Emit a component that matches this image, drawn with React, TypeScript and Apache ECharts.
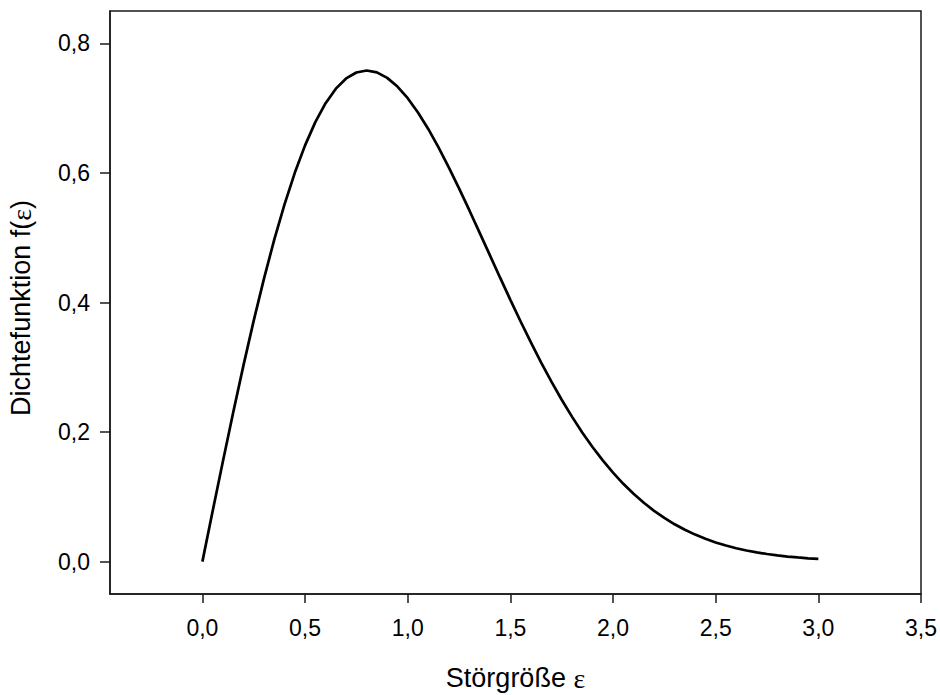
import React, { useEffect, useRef } from "react";
import * as echarts from "echarts";

const xValues: number[] = [
  0.0, 0.05, 0.1, 0.15, 0.2, 0.25, 0.3, 0.35, 0.4, 0.45, 0.5, 0.55, 0.6, 0.65, 0.7, 0.75,
  0.8, 0.85, 0.9, 0.95, 1.0, 1.05, 1.1, 1.15, 1.2, 1.25, 1.3, 1.35, 1.4, 1.45, 1.5, 1.55,
  1.6, 1.65, 1.7, 1.75, 1.8, 1.85, 1.9, 1.95, 2.0, 2.05, 2.1, 2.15, 2.2, 2.25, 2.3, 2.35,
  2.4, 2.45, 2.5, 2.55, 2.6, 2.65, 2.7, 2.75, 2.8, 2.85, 2.9, 2.95, 3.0,
];

const densityValues: number[] = [
  0.0, 0.078, 0.155, 0.2303, 0.3029, 0.372, 0.4369, 0.497, 0.5516, 0.6002, 0.6426, 0.6785,
  0.7077, 0.7301, 0.7459, 0.7551, 0.7582, 0.7553, 0.7468, 0.7334, 0.7154, 0.6933, 0.6679,
  0.6395, 0.6087, 0.5762, 0.5425, 0.5079, 0.4731, 0.4383, 0.4041, 0.3707, 0.3383, 0.3073,
  0.2778, 0.2499, 0.2238, 0.1994, 0.1769, 0.1563, 0.1373, 0.1201, 0.1047, 0.0908, 0.0784,
  0.0674, 0.0576, 0.0491, 0.0417, 0.0352, 0.0296, 0.0248, 0.0207, 0.0172, 0.0142, 0.0117,
  0.0096, 0.0078, 0.0064, 0.0051, 0.0041,
];

const xTicks: number[] = [0, 0.5, 1.0, 1.5, 2.0, 2.5, 3.0, 3.5];
const yTicks: number[] = [0, 0.2, 0.4, 0.6, 0.8];

const xTitle = "Störgröße ";
const yTitle = "Dichtefunktion f(";
const epsilon = "ε";

const fmt = (v: number) => v.toFixed(1).replace(".", ",");

export default function App() {
  const ref = useRef<HTMLDivElement>(null);

  useEffect(() => {
    if (!ref.current) return;
    const chart = echarts.init(ref.current, undefined, { renderer: "svg" });
    const axisColor = "#1a1a1a";
    const font = "'Liberation Sans', Arial, Helvetica, sans-serif";
    const serif = "'Liberation Serif', 'DejaVu Serif', serif";
    chart.setOption({
      animation: false,
      backgroundColor: "#ffffff",
      grid: {
        left: 110,
        right: 19,
        top: 11,
        bottom: 101,
        show: true,
        borderColor: axisColor,
        borderWidth: 1.5,
        outerBoundsMode: "none",
      },
      xAxis: {
        type: "value",
        min: -0.45,
        max: 3.5,
        name: `${xTitle}{e|${epsilon}}`,
        nameLocation: "middle",
        nameGap: 70,
        nameTextStyle: {
          fontFamily: font,
          fontSize: 27,
          color: "#000",
          rich: {
            e: { fontFamily: serif, fontSize: 28, color: "#000" },
          },
        },
        axisLine: { show: true, onZero: false, lineStyle: { color: axisColor, width: 1.5 } },
        axisTick: { show: true, length: 9, customValues: xTicks, lineStyle: { color: axisColor, width: 1.5 } },
        axisLabel: {
          customValues: xTicks,
          formatter: fmt,
          margin: 22,
          fontFamily: font,
          fontSize: 23,
          color: "#000",
        },
        splitLine: { show: false },
      },
      yAxis: {
        type: "value",
        min: -0.05,
        max: 0.85,
        name: `${yTitle}{e|${epsilon}})`,
        nameLocation: "middle",
        nameGap: 75,
        nameTextStyle: {
          fontFamily: font,
          fontSize: 27,
          color: "#000",
          padding: [0, 11, 0, 0],
          rich: {
            e: { fontFamily: serif, fontSize: 28, color: "#000" },
          },
        },
        axisLine: { show: true, onZero: false, lineStyle: { color: axisColor, width: 1.5 } },
        axisTick: { show: true, length: 10, customValues: yTicks, lineStyle: { color: axisColor, width: 1.5 } },
        axisLabel: {
          customValues: yTicks,
          formatter: fmt,
          margin: 20,
          fontFamily: font,
          fontSize: 23,
          color: "#000",
        },
        splitLine: { show: false },
      },
      series: [
        {
          type: "line",
          data: xValues.map((x, i) => [x, densityValues[i]]),
          showSymbol: false,
          symbol: "none",
          smooth: false,
          lineStyle: { color: "#000", width: 2.7 },
        },
      ],
    });
    return () => chart.dispose();
  }, []);

  return (
    <div
      ref={ref}
      style={{ position: "fixed", left: 0, top: 0, width: 940, height: 695, background: "#fff" }}
    />
  );
}
